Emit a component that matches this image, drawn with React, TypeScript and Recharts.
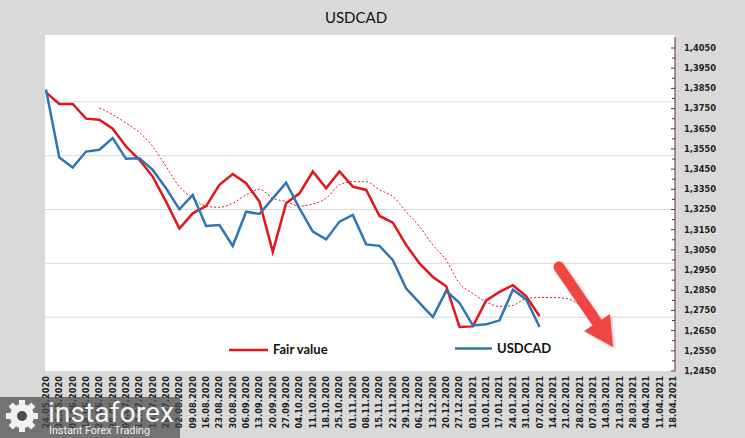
import React from 'react';
import { LineChart, Line, XAxis, YAxis, CartesianGrid } from 'recharts';

// Weekly dates on the category axis
const dates = [
  '24.05.2020', '31.05.2020', '07.06.2020', '14.06.2020', '21.06.2020', '28.06.2020',
  '05.07.2020', '12.07.2020', '19.07.2020', '26.07.2020', '02.08.2020', '09.08.2020',
  '16.08.2020', '23.08.2020', '30.08.2020', '06.09.2020', '13.09.2020', '20.09.2020',
  '27.09.2020', '04.10.2020', '11.10.2020', '18.10.2020', '25.10.2020', '01.11.2020',
  '08.11.2020', '15.11.2020', '22.11.2020', '29.11.2020', '06.12.2020', '13.12.2020',
  '20.12.2020', '27.12.2020', '03.01.2021', '10.01.2021', '17.01.2021', '24.01.2021',
  '31.01.2021', '07.02.2021', '14.02.2021', '21.02.2021', '28.02.2021', '07.03.2021',
  '14.03.2021', '21.03.2021', '28.03.2021', '04.04.2021', '11.04.2021', '18.04.2021'
];

// USDCAD weekly close
const usdcad = [
  1.3844, 1.3507, 1.3458, 1.3537, 1.3546, 1.3604, 1.3501, 1.3504, 1.3446, 1.3355,
  1.3251, 1.3322, 1.3168, 1.3173, 1.3069, 1.3239, 1.3228, 1.3305, 1.3383, 1.3256,
  1.3140, 1.3102, 1.3190, 1.3223, 1.3077, 1.3070, 1.2999, 1.2858, 1.2787, 1.2717,
  1.2847, 1.2787, 1.2676, 1.2681, 1.2701, 1.2853, 1.2804, 1.2668
];

// Fair value estimate
const fairValue = [
  1.3830, 1.3773, 1.3773, 1.3700, 1.3695, 1.3650, 1.3562, 1.3496, 1.3413, 1.3289,
  1.3156, 1.3231, 1.3267, 1.3372, 1.3426, 1.3380, 1.3289, 1.3040, 1.3281, 1.3330,
  1.3438, 1.3355, 1.3438, 1.3363, 1.3347, 1.3218, 1.3185, 1.3074, 1.2983, 1.2916,
  1.2870, 1.2668, 1.2671, 1.2800, 1.2842, 1.2875, 1.2820, 1.2721
];

// Smoothed fair value trend, starts at the fifth week
const trendStart = 4;
const fairTrend = [
  1.3753, 1.3720, 1.3678, 1.3632, 1.3562, 1.3463, 1.3363, 1.3306, 1.3267, 1.3261,
  1.3281, 1.3322, 1.3350, 1.3306, 1.3289, 1.3267, 1.3277, 1.3306, 1.3372, 1.3388,
  1.3388, 1.3347, 1.3314, 1.3239, 1.3165, 1.3074, 1.2999, 1.2883, 1.2834, 1.2792,
  1.2770, 1.2775, 1.2809, 1.2814, 1.2814, 1.2809, 1.2778
];

const yLabels = [
  1.245, 1.255, 1.265, 1.275, 1.285, 1.295, 1.305, 1.315, 1.325,
  1.335, 1.345, 1.355, 1.365, 1.375, 1.385, 1.395, 1.405
];

const RED = '#e0161b';
const BLUE = '#2e75b6';
const W = 745;
const H = 438;

const data = dates.map((date, i) => ({
  date,
  usdcad: i < usdcad.length ? usdcad[i] : null,
  fair: i < fairValue.length ? fairValue[i] : null,
  trend: i >= trendStart && i - trendStart < fairTrend.length ? fairTrend[i - trendStart] : null
}));

// major label ticks plus a minor tick halfway between them
const yTicks: number[] = [];
yLabels.forEach((v, i) => {
  yTicks.push(v);
  if (i < yLabels.length - 1) yTicks.push(+(v + 0.005).toFixed(4));
});
const isMajor = (v: number) => yLabels.some(l => Math.abs(l - v) < 1e-6);

const XTick = ({ x, y, payload }: any) => (
  <text
    transform={`translate(${x},${y}) rotate(-90)`}
    textAnchor="end"
    dy="0.35em"
    fontFamily="DejaVu Sans"
    fontWeight="bold"
    fontSize={8.3}
    fill="#222"
  >
    {payload.value}
  </text>
);

const YTick = ({ x, y, payload }: any) => {
  const major = isMajor(payload.value);
  const ax = x - 9;
  return (
    <g>
      <line x1={ax - (major ? 4 : 3)} x2={ax} y1={y} y2={y} stroke="#5a3030" strokeWidth={1} />
      {major && (
        <text x={x} y={y} dy="0.35em" fontFamily="DejaVu Sans" fontWeight="bold" fontSize={8.3} fill="#222">
          {payload.value.toFixed(4).replace('.', ',')}
        </text>
      )}
    </g>
  );
};

export default function App() {
  return (
    <div style={{ position: 'absolute', left: 0, top: 0, width: W, height: H, background: '#d9d9d9', overflow: 'hidden' }}>
      <div style={{ position: 'absolute', left: 45, top: 35, width: 630, height: 336, background: '#fff' }} />
      <div style={{ position: 'absolute', left: 0, top: 0 }}>
        <LineChart width={W} height={H} data={data} margin={{ top: 48, right: 0, left: 45, bottom: 0 }}>
          <CartesianGrid
            vertical={false}
            stroke="#d9d9d9"
            horizontalCoordinatesGenerator={({ offset }: any) =>
              [1, 2, 3, 4, 5].map(k => offset.top + (offset.height * k) / 6)
            }
          />
          <XAxis
            dataKey="date"
            interval={0}
            tick={<XTick />}
            tickLine={false}
            axisLine={false}
            tickSize={0}
            tickMargin={5}
            height={67}
            padding={{ left: 1, right: 2 }}
          />
          <YAxis
            orientation="right"
            domain={[1.245, 1.405]}
            ticks={yTicks}
            allowDataOverflow
            interval={0}
            tick={<YTick />}
            tickLine={false}
            tickSize={0}
            tickMargin={9}
            width={70}
            axisLine={{ stroke: '#5a3030' }}
          />
          <Line
            type="monotone"
            dataKey="trend"
            stroke={RED}
            strokeWidth={1}
            strokeDasharray="2 2"
            dot={false}
            activeDot={false}
            isAnimationActive={false}
          />
          <Line
            type="linear"
            dataKey="fair"
            stroke={RED}
            strokeWidth={2.5}
            dot={false}
            activeDot={false}
            isAnimationActive={false}
          />
          <Line
            type="linear"
            dataKey="usdcad"
            stroke={BLUE}
            strokeWidth={2.5}
            dot={false}
            activeDot={false}
            isAnimationActive={false}
          />
        </LineChart>
      </div>
      <svg width={W} height={H} style={{ position: 'absolute', left: 0, top: 0 }}>
        <defs>
          <filter id="shadow" x="-20%" y="-20%" width="140%" height="140%">
            <feDropShadow dx="1.5" dy="1.5" stdDeviation="1.5" floodColor="#000" floodOpacity="0.25" />
          </filter>
        </defs>
        {/* axis line continues above the top label */}
        <line x1={675} x2={675} y1={37} y2={48} stroke="#5a3030" />
        <text x={356} y={23} textAnchor="middle" fontFamily="Lato" fontSize={15} fill="#111">
          USDCAD
        </text>
        {/* legend */}
        <line x1={229} x2={268} y1={350} y2={350} stroke={RED} strokeWidth={2.5} />
        <text x={273} y={354} fontFamily="Lato" fontWeight="bold" fontSize={13} fill="#111">
          Fair value
        </text>
        <line x1={455} x2={492} y1={348.5} y2={348.5} stroke={BLUE} strokeWidth={2.5} />
        <text x={497} y={353} fontFamily="Lato" fontWeight="bold" fontSize={13} fill="#111">
          USDCAD
        </text>
        {/* forecast arrow */}
        <g filter="url(#shadow)" fill="#f04545" stroke="none">
          <line x1={559} y1={267} x2={596} y2={321} stroke="#f04545" strokeWidth={11} strokeLinecap="round" />
          <polygon points="584,331 610,314 613,347" />
        </g>
        {/* watermark */}
        <rect x={0} y={397} width={180} height={41} fill="rgba(75,75,75,0.72)" />
        <g fill="#f2f2f2">
          <circle cx={22} cy={416} r={12} />
          {[0, 45, 90, 135, 180, 225, 270, 315].map(a => (
            <rect key={a} x={19} y={400} width={6} height={6} transform={`rotate(${a} 22 416)`} />
          ))}
          <circle cx={22} cy={416} r={5} fill="rgba(75,75,75,1)" />
        </g>
        <text x={48} y={422} fontFamily="Roboto" fontSize={28} fill="#f4f4f4" textLength={126} lengthAdjust="spacingAndGlyphs">
          instaforex
        </text>
        <text x={49} y={434} fontFamily="Roboto" fontSize={10} fill="#eee" textLength={101} lengthAdjust="spacingAndGlyphs">
          Instant Forex Trading
        </text>
      </svg>
    </div>
  );
}
